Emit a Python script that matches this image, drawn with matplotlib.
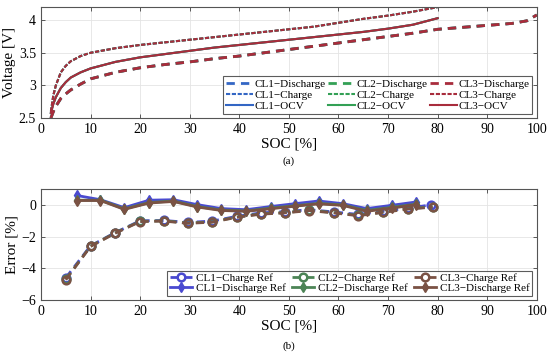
import matplotlib
matplotlib.use("Agg")
import matplotlib.pyplot as plt

plt.rcParams['font.family'] = ['Liberation Serif', 'DejaVu Serif']
plt.rcParams['axes.unicode_minus'] = True

# ---- top panel data (voltage vs SOC) ----
soc_dis = [2, 2.5, 3, 4, 5, 6, 8, 10, 15, 20, 25, 30, 35, 40, 45, 50, 55, 60, 65, 70, 75, 80, 85, 90, 95, 98, 100]
v_dis_cl1 = [2.5, 2.6, 2.68, 2.8, 2.87, 2.93, 3.02, 3.1, 3.2, 3.27, 3.32, 3.36, 3.41, 3.45, 3.5, 3.55, 3.6, 3.65, 3.7, 3.75, 3.8, 3.86, 3.89, 3.92, 3.95, 3.99, 4.08]
v_dis_cl2 = [2.5, 2.6, 2.68, 2.8, 2.87, 2.93, 3.02, 3.1, 3.2, 3.27, 3.32, 3.36, 3.41, 3.45, 3.5, 3.55, 3.6, 3.65, 3.7, 3.75, 3.8, 3.86, 3.89, 3.92, 3.95, 3.99, 4.08]
v_dis_cl3 = [2.5, 2.6, 2.68, 2.8, 2.87, 2.93, 3.02, 3.1, 3.2, 3.27, 3.32, 3.36, 3.41, 3.45, 3.5, 3.55, 3.6, 3.65, 3.7, 3.75, 3.8, 3.86, 3.89, 3.92, 3.95, 3.99, 4.08]

soc_chg = [2, 2.5, 3, 4, 5, 6, 8, 10, 15, 20, 25, 30, 35, 40, 45, 50, 55, 60, 65, 70, 75, 80]
v_chg_cl1 = [2.6, 2.85, 3.0, 3.2, 3.3, 3.37, 3.45, 3.5, 3.57, 3.62, 3.66, 3.7, 3.74, 3.78, 3.82, 3.86, 3.9, 3.96, 4.02, 4.07, 4.13, 4.2]
v_chg_cl2 = [2.6, 2.85, 3.0, 3.2, 3.3, 3.37, 3.45, 3.5, 3.57, 3.62, 3.66, 3.7, 3.74, 3.78, 3.82, 3.86, 3.9, 3.96, 4.02, 4.07, 4.13, 4.2]
v_chg_cl3 = [2.6, 2.85, 3.0, 3.2, 3.3, 3.37, 3.45, 3.5, 3.57, 3.62, 3.66, 3.7, 3.74, 3.78, 3.82, 3.86, 3.9, 3.96, 4.02, 4.07, 4.13, 4.2]

soc_ocv = [2, 2.5, 3, 4, 5, 6, 8, 10, 15, 20, 25, 30, 35, 40, 45, 50, 55, 60, 65, 70, 75, 80]
v_ocv_cl1 = [2.58, 2.72, 2.82, 2.96, 3.05, 3.12, 3.2, 3.26, 3.36, 3.43, 3.48, 3.53, 3.58, 3.62, 3.66, 3.7, 3.74, 3.78, 3.82, 3.87, 3.93, 4.03]
v_ocv_cl2 = [2.58, 2.72, 2.82, 2.96, 3.05, 3.12, 3.2, 3.26, 3.36, 3.43, 3.48, 3.53, 3.58, 3.62, 3.66, 3.7, 3.74, 3.78, 3.82, 3.87, 3.93, 4.03]
v_ocv_cl3 = [2.58, 2.72, 2.82, 2.96, 3.05, 3.12, 3.2, 3.26, 3.36, 3.43, 3.48, 3.53, 3.58, 3.62, 3.66, 3.7, 3.74, 3.78, 3.82, 3.87, 3.93, 4.03]

# ---- bottom panel data (error vs SOC) ----
soc_cref_cl1 = [5, 10, 15, 20, 24.8, 29.6, 34.5, 39.5, 44.4, 49.2, 54.1, 59, 64, 69, 74, 78.6]
err_cref_cl1 = [-4.6, -2.58, -1.74, -1.0, -0.98, -1.1, -1.02, -0.72, -0.5, -0.42, -0.3, -0.44, -0.6, -0.4, -0.2, 0.0]
soc_cref_cl2 = [5, 10, 15, 20, 24.8, 29.6, 34.5, 39.5, 44.4, 49.2, 54.1, 59, 64, 69, 74, 79]
err_cref_cl2 = [-4.7, -2.6, -1.76, -1.03, -1.0, -1.14, -1.07, -0.76, -0.56, -0.48, -0.34, -0.48, -0.66, -0.45, -0.24, -0.12]
soc_cref_cl3 = [5, 10, 15, 20, 24.8, 29.6, 34.5, 39.5, 44.4, 49.2, 54.1, 59, 64, 69, 74, 79]
err_cref_cl3 = [-4.72, -2.62, -1.78, -1.05, -1.02, -1.16, -1.09, -0.78, -0.58, -0.5, -0.36, -0.5, -0.68, -0.47, -0.26, -0.14]

soc_dref = [7.2, 12, 16.8, 21.8, 26.7, 31.5, 36.4, 41.4, 46.3, 51.2, 56, 60.9, 65.7, 70.8, 75.7]
err_dref_cl1 = [0.6, 0.33, -0.17, 0.3, 0.33, 0.02, -0.23, -0.3, -0.1, 0.08, 0.25, 0.08, -0.23, -0.02, 0.19]
err_dref_cl2 = [0.3, 0.3, -0.25, 0.15, 0.25, -0.1, -0.32, -0.38, -0.2, -0.05, 0.1, 0.0, -0.35, -0.15, 0.05]
err_dref_cl3 = [0.28, 0.28, -0.28, 0.12, 0.22, -0.13, -0.35, -0.4, -0.24, -0.08, 0.07, -0.03, -0.4, -0.2, 0.02]

top_colors = ['#3366c4', '#33a055', '#a82c3c']
bot_colors = ['#4a4ad0', '#4c8456', '#7a5244']
M = '\u2212'

fig = plt.figure(figsize=(5.5, 3.56), dpi=100)
ax1 = fig.add_axes([0.0745, 0.6685, 0.9015, 0.3115])
ax2 = fig.add_axes([0.0745, 0.1573, 0.9015, 0.3115])


def style(ax):
    ax.set_xlim(0, 100)
    ax.set_xticks(range(0, 101, 10))
    ax.grid(True, color='#e4e4e4', linewidth=0.6)
    ax.set_axisbelow(True)
    ax.tick_params(direction='in', top=True, right=True, labelsize=10, length=3, width=0.6, color='#404040')
    for s in ax.spines.values():
        s.set_color('#555555')
        s.set_linewidth(0.8)


# 上图
dis = [v_dis_cl1, v_dis_cl2, v_dis_cl3]
chg = [v_chg_cl1, v_chg_cl2, v_chg_cl3]
ocv = [v_ocv_cl1, v_ocv_cl2, v_ocv_cl3]
for i in range(3):
    ax1.plot(soc_dis, dis[i], linestyle=(0, (3, 2.2)), lw=2, color=top_colors[i], label=f'CL{i+1}{M}Discharge')
    ax1.plot(soc_chg, chg[i], linestyle=(0, (2, 0.8)), lw=1.5, color=top_colors[i], label=f'CL{i+1}{M}Charge')
    ax1.plot(soc_ocv, ocv[i], linestyle='-', lw=1.5, color=top_colors[i], label=f'CL{i+1}{M}OCV')
style(ax1)
ax1.set_ylim(2.5, 4.2)
ax1.set_yticks([2.5, 3, 3.5, 4])
ax1.set_yticklabels(['2.5', '3', '3.5', '4'])
ax1.set_ylabel('Voltage [V]', fontsize=11, labelpad=2)
ax1.set_xlabel('SOC [%]', fontsize=11, labelpad=1)
leg1 = ax1.legend(loc='lower right', ncol=3, fontsize=8, frameon=True, fancybox=False,
                  edgecolor='#333333', handlelength=2.4, handletextpad=0.15, columnspacing=0.25,
                  labelspacing=0.1, borderpad=0.25, borderaxespad=0.4)
leg1.get_frame().set_linewidth(0.8)
fig.text(0.525, 0.54, '(a)', ha='center', fontsize=8)

# 下图
cref = [(soc_cref_cl1, err_cref_cl1), (soc_cref_cl2, err_cref_cl2), (soc_cref_cl3, err_cref_cl3)]
dref = [err_dref_cl1, err_dref_cl2, err_dref_cl3]
for i in range(3):
    ax2.plot(cref[i][0], cref[i][1], linestyle=(0, (3, 2)), lw=2, color=bot_colors[i],
             marker='o', ms=5.5, mfc='none', mew=1.8, label=f'CL{i+1}{M}Charge Ref')
    ax2.plot(soc_dref, dref[i], linestyle='-', lw=2, color=bot_colors[i],
             marker='d', ms=5.5, label=f'CL{i+1}{M}Discharge Ref')
style(ax2)
ax2.set_ylim(-6, 1)
ax2.set_yticks([-6, -4, -2, 0])
ax2.set_ylabel('Error [%]', fontsize=11, labelpad=2)
ax2.set_xlabel('SOC [%]', fontsize=11, labelpad=1)
leg2 = ax2.legend(loc='lower right', ncol=3, fontsize=8, frameon=True, fancybox=False,
                  edgecolor='#333333', handlelength=2.0, handletextpad=0.4, columnspacing=0.5,
                  labelspacing=0.05, borderpad=0.2, borderaxespad=0.4)
leg2.get_frame().set_linewidth(0.8)
fig.text(0.525, 0.02, '(b)', ha='center', fontsize=8)

fig.savefig('out.png', dpi=100)
